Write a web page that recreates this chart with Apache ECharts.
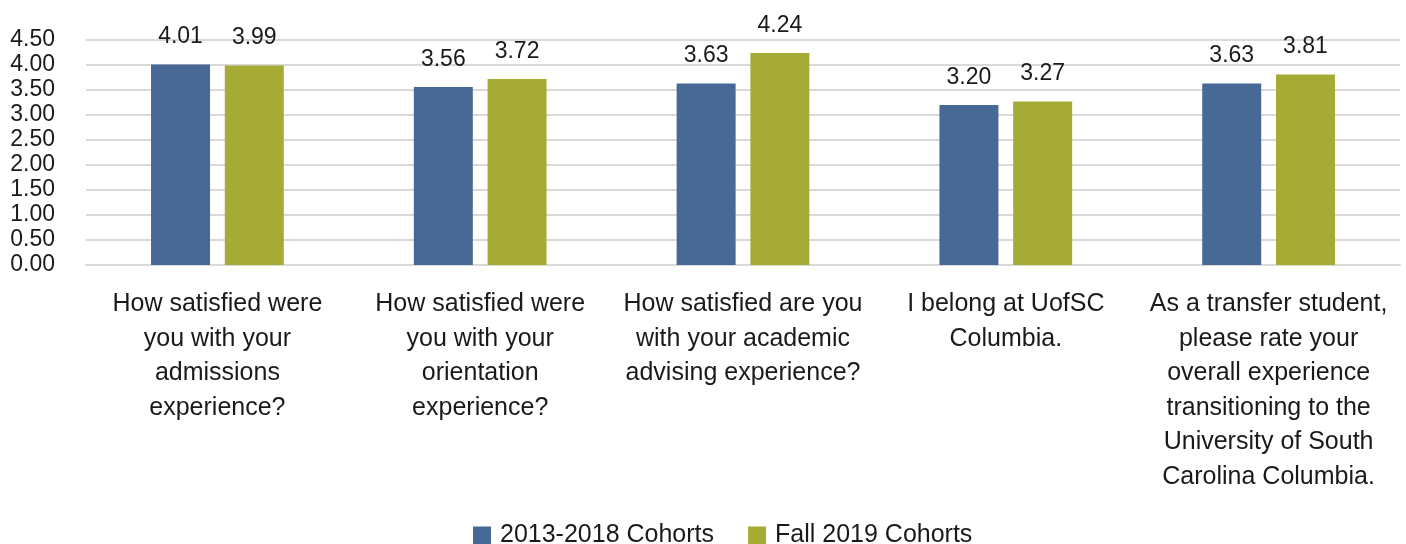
<!DOCTYPE html>
<html><head><meta charset="utf-8">
<script src="https://cdn.jsdelivr.net/npm/echarts@6/dist/echarts.min.js"></script>
<style>html,body{margin:0;padding:0;background:#fff}#c{width:1406px;height:544px}</style>
</head><body><div id="c"></div>
<script>
const categories = [
  "How satisfied were\nyou with your\nadmissions\nexperience?",
  "How satisfied were\nyou with your\norientation\nexperience?",
  "How satisfied are you\nwith your academic\nadvising experience?",
  "I belong at UofSC\nColumbia.",
  "As a transfer student,\nplease rate your\noverall experience\ntransitioning to the\nUniversity of South\nCarolina Columbia."
];
const seriesNames = ["2013-2018 Cohorts", "Fall 2019 Cohorts"];
const cohorts2013_2018 = [4.01, 3.56, 3.63, 3.20, 3.63];
const fall2019 = [3.99, 3.72, 4.24, 3.27, 3.81];
const yTicks = { min: 0, max: 4.5, interval: 0.5 };

const FONT = '"Liberation Sans Narrow", "Arial Narrow", "Liberation Sans", sans-serif';
const chart = echarts.init(document.getElementById('c'));
const labelCfg = {
  show: true, position: 'top', distance: 16,
  formatter: p => p.value.toFixed(2),
  color: '#1a1a1a', fontFamily: FONT, fontSize: 23
};
chart.setOption({
  animation: false,
  textStyle: { fontFamily: FONT },
  grid: { left: 86, right: 6, top: 40, bottom: 279, containLabel: false },
  legend: {
    top: 518, left: 468, itemWidth: 18, itemHeight: 18, itemGap: 34,
    icon: 'rect',
    textStyle: { fontFamily: FONT, fontSize: 25, color: '#1a1a1a', padding: [0, 0, 0, 4] },
    data: seriesNames
  },
  xAxis: {
    type: 'category', data: categories,
    axisTick: { show: false },
    axisLine: { lineStyle: { color: '#d9d9d9', width: 2 } },
    axisLabel: { interval: 0, margin: 22, fontFamily: FONT, fontSize: 25, color: '#1a1a1a', lineHeight: 34.5, align: 'center' }
  },
  yAxis: {
    type: 'value', min: yTicks.min, max: yTicks.max, interval: yTicks.interval,
    axisLine: { show: false }, axisTick: { show: false },
    splitLine: { lineStyle: { color: '#d9d9d9', width: 2 } },
    axisLabel: { margin: 31, fontFamily: FONT, fontSize: 23, color: '#1a1a1a', formatter: v => v.toFixed(2) }
  },
  series: [
    { name: seriesNames[0], type: 'bar', data: cohorts2013_2018, barWidth: 59, barGap: '25%',
      itemStyle: { color: '#486996' }, label: labelCfg },
    { name: seriesNames[1], type: 'bar', data: fall2019, barWidth: 59,
      itemStyle: { color: '#a6ab36' }, label: labelCfg }
  ]
});
</script></body></html>
